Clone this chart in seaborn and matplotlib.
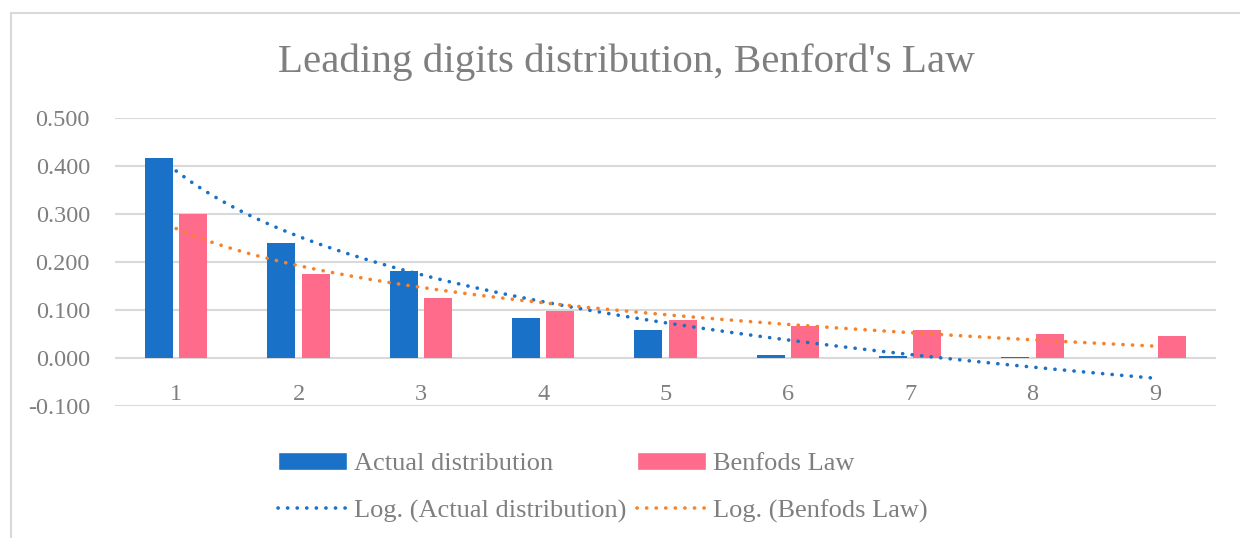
import matplotlib
matplotlib.use("Agg")
import matplotlib.pyplot as plt
from matplotlib.lines import Line2D
from matplotlib.patches import Patch
import numpy as np
import pandas as pd
import seaborn as sns

# leading digit categories and the two series
digits = [1, 2, 3, 4, 5, 6, 7, 8, 9]
actual = [0.417, 0.240, 0.181, 0.083, 0.058, 0.006, 0.004, 0.002, 0.000]
benford = [0.301, 0.176, 0.125, 0.097, 0.079, 0.067, 0.058, 0.051, 0.046]
series_names = ["Actual distribution", "Benfods Law"]
yticks = [-0.1, 0.0, 0.1, 0.2, 0.3, 0.4, 0.5]

BLUE = "#1a71c8"
PINK = "#ff6b8a"
ORANGE = "#f7822a"
GREY_TXT = "#7f7f7f"
GRID = "#d9d9d9"
DOTS = (0, (0.05, 2.6))

sns.set_theme(style="white")
plt.rcParams["font.family"] = ["Liberation Serif", "DejaVu Serif"]

df = pd.DataFrame({
    "digit": digits * 2,
    "value": actual + benford,
    "series": [series_names[0]] * len(digits) + [series_names[1]] * len(digits),
})

fig = plt.figure(figsize=(12.4, 5.38), dpi=100)
ax = fig.add_axes([115 / 1240, 1 - 406 / 538, (1216 - 115) / 1240, (406 - 118) / 538])

sns.barplot(data=df, x="digit", y="value", hue="series",
            palette=[BLUE, PINK], width=0.56, gap=0.18,
            saturation=1, legend=False, linewidth=0, ax=ax)

# logarithmic trendlines, least squares on ln(x) like Excel does
xs = np.linspace(1, 9, 200)
for vals, col in [(actual, BLUE), (benford, ORANGE)]:
    a, b = np.polyfit(np.log(digits), vals, 1)
    ax.plot(xs - 1, a * np.log(xs) + b, color=col, lw=2.6,
            linestyle=DOTS, dash_capstyle="round", zorder=4)

ax.set_xlim(-0.5, 8.5)
ax.set_ylim(-0.1, 0.5)
ax.set_yticks(yticks)
ax.set_yticklabels([f"{t:.3f}" for t in yticks])
ax.grid(axis="y", color=GRID, lw=1.5)
ax.set_axisbelow(True)
for s in ax.spines.values():
    s.set_visible(False)
ax.spines["bottom"].set_position(("data", 0))
ax.tick_params(axis="x", length=0, pad=19, labelsize=17.5, labelcolor=GREY_TXT)
ax.tick_params(axis="y", length=0, pad=18, labelsize=17.5, labelcolor=GREY_TXT)
ax.set_xlabel("")
ax.set_ylabel("")

fig.text(626 / 1240, 1 - 62 / 538, "Leading digits distribution, Benford's Law",
         ha="center", va="center", fontsize=29.5, color=GREY_TXT)

handles = [
    Patch(facecolor=BLUE, label="Actual distribution"),
    Line2D([], [], color=BLUE, lw=2.6, linestyle=DOTS,
           dash_capstyle="round", label="Log. (Actual distribution)"),
    Patch(facecolor=PINK, label="Benfods Law"),
    Line2D([], [], color=ORANGE, lw=2.6, linestyle=DOTS,
           dash_capstyle="round", label="Log. (Benfods Law)"),
]
fig.legend(handles=handles, ncol=2, loc="center",
           bbox_to_anchor=(603 / 1240, 1 - 487.5 / 538), frameon=False,
           fontsize=19, labelcolor=GREY_TXT, handlelength=2.6,
           handleheight=0.65, handletextpad=0.3, columnspacing=0.38,
           labelspacing=0.9)

# chart area border (left and top only, as cropped in the original)
fig.add_artist(Line2D([11 / 1240, 11 / 1240], [0, 1 - 13 / 538],
                      transform=fig.transFigure, color=GRID, lw=1.5))
fig.add_artist(Line2D([11 / 1240, 1], [1 - 13 / 538, 1 - 13 / 538],
                      transform=fig.transFigure, color=GRID, lw=1.5))

fig.savefig("out.png", dpi=100)
